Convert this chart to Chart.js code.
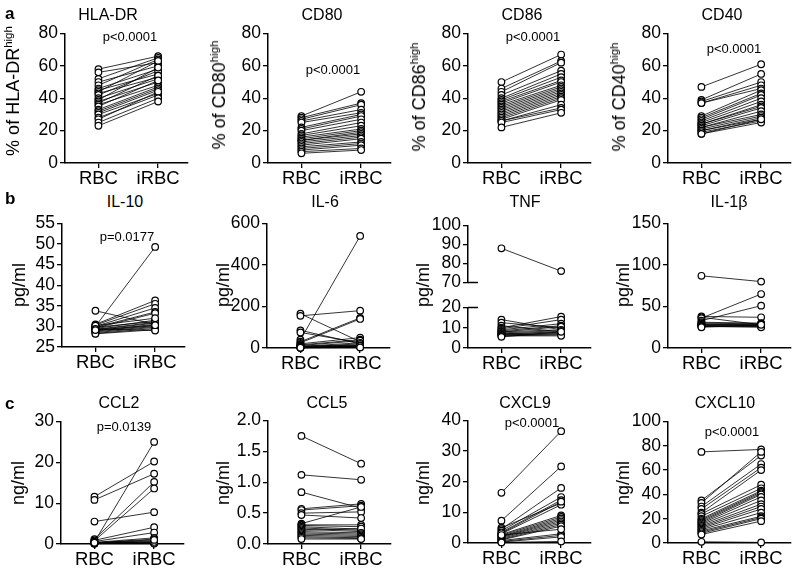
<!DOCTYPE html>
<html>
<head>
<meta charset="utf-8">
<script src="https://cdn.jsdelivr.net/npm/chart.js@4.4.0/dist/chart.umd.min.js"></script>
<style>
  body { margin: 0; background: #fff; width: 797px; height: 573px; position: relative; overflow: hidden;
         font-family: 'Liberation Sans', Arial, sans-serif; color: #000; }
  canvas { position: absolute; }
  .lbl { position: absolute; white-space: nowrap; line-height: 1; transform: translate(-50%, -50%); }
  .ttl { font-size: 16px; }
  .pv { font-size: 13px; }
  .ax { font-size: 18px; transform: translate(-50%, -50%) rotate(-90deg); }
  .ax sup { font-size: 11.5px; vertical-align: 7px; line-height: 0; }
  .let { position: absolute; font-weight: bold; font-size: 17px; line-height: 1; transform: translateY(-50%); }
</style>
</head>
<body>
<script>
"use strict";

const groups = ["RBC", "iRBC"];

// row a: % of high-expressing cells
const hlaRBC  = [58, 56, 52, 50, 48, 46, 45, 44, 43, 42, 40, 39, 38, 37, 36, 35, 33, 32, 31, 30, 28, 27, 25, 23];
const hlaIRBC = [66, 62, 65, 60, 64, 58, 55, 63, 53, 57, 52, 59, 50, 54, 48, 51, 47, 46, 45, 43, 42, 44, 40, 38];
const cd80RBC  = [29, 28, 27, 26, 25, 22, 21, 20, 18, 17, 16, 15, 14, 14, 13, 12, 11, 10, 9, 8, 7, 6];
const cd80IRBC = [44, 37, 36, 33, 31, 30, 29, 27, 25, 23, 21, 20, 19, 18, 17, 16, 15, 13, 12, 11, 9, 8];
const cd86RBC  = [50, 46, 44, 42, 40, 39, 38, 37, 36, 35, 34, 33, 32, 31, 30, 29, 28, 27, 26, 26, 25, 22];
const cd86IRBC = [67, 63, 62, 57, 55, 53, 51, 50, 48, 47, 46, 45, 44, 43, 42, 41, 40, 39, 36, 34, 33, 31];
const cd40RBC  = [47, 39, 38, 37, 37, 29, 28, 27, 26, 25, 24, 24, 23, 22, 22, 21, 20, 20, 19, 18, 18];
const cd40IRBC = [61, 55, 50, 48, 46, 45, 43, 42, 40, 38, 36, 35, 34, 32, 30, 29, 28, 27, 26, 25, 27];

// row b: cytokines, pg/ml
const il10RBC  = [30, 33.8, 30.5, 30.3, 30, 29.8, 29.6, 29.5, 29.3, 29.2, 29, 28.9, 28.7, 28.5, 28.3, 28.2, 29.8, 30.2, 29.4, 29.1];
const il10IRBC = [49.3, 30.5, 36.3, 35.5, 34.5, 33.5, 33.2, 31.5, 31, 30.8, 30.5, 30.2, 30, 29.8, 29.5, 29.2, 31.2, 32, 29, 30.3];
const il6RBC  = [165, 155, 85, 75, 40, 30, 25, 20, 15, 12, 10, 8, 6, 5, 4, 3, 2, 2, 1, 1];
const il6IRBC = [30, 180, 20, 25, 540, 145, 140, 50, 40, 35, 10, 25, 15, 20, 8, 12, 5, 6, 10, 3];
const tnfRBC  = [88, 14, 12.5, 11, 10, 9.5, 9, 8.5, 8, 8, 7.5, 7, 7, 6.5, 6.5, 6, 6, 5.5];
const tnfIRBC = [76, 9, 10, 8, 15.5, 14, 12, 11, 10.5, 9, 8.5, 8, 7.5, 7, 7, 6.5, 6, 8];
const il1bRBC  = [87, 38, 37, 36, 33, 31, 30, 29, 28, 28, 27, 27, 26, 26, 25];
const il1bIRBC = [80, 37, 28, 65, 51, 30, 29, 28, 29, 27, 27, 26, 26, 25, 28];

// row c: chemokines, ng/ml
const ccl2RBC  = [11.6, 10.8, 5.5, 0.5, 1.2, 0.8, 0.9, 0.6, 0.4, 0.3, 0.3, 0.2, 0.2, 0.1, 0.1, 0.1, 0.2, 0.3];
const ccl2IRBC = [20.2, 17.2, 7.8, 25, 15.2, 13.6, 4.1, 2.8, 1.5, 1.2, 0.8, 0.6, 0.4, 0.3, 0.2, 0.1, 0.5, 1];
const ccl5RBC  = [1.75, 1.12, 0.84, 0.57, 0.55, 0.5, 0.47, 0.33, 0.31, 0.3, 0.28, 0.26, 0.24, 0.22, 0.2, 0.18, 0.16, 0.14, 0.12, 0.1, 0.08];
const ccl5IRBC = [1.3, 1.04, 0.58, 0.65, 0.62, 0.52, 0.42, 0.6, 0.31, 0.28, 0.24, 0.22, 0.2, 0.25, 0.18, 0.16, 0.14, 0.12, 0.1, 0.09, 0.08];
const cxcl9RBC  = [16.4, 7.3, 5, 4.5, 4, 3.5, 3, 2.8, 2.5, 2.2, 2, 1.8, 1.5, 1.2, 1, 0.8, 0.5, 0.3, 0.2, 3.2, 2.6];
const cxcl9IRBC = [36.5, 25, 13, 18, 15, 14, 12.5, 9, 8.5, 8, 7.5, 7, 6.5, 6, 5.5, 3, 2.5, 2, 0.5, 13.5, 4.5];
const cxcl10RBC  = [75, 35, 33, 30, 28, 25, 24, 22, 20, 19, 18, 17, 16, 15, 14, 13, 12, 11, 10, 9, 8, 7, 1];
const cxcl10IRBC = [77, 72, 75, 65, 62, 60, 48, 45, 43, 42, 41, 40, 38, 35, 32, 30, 28, 25, 22, 21, 20, 18, 0.5];

const FONT = "'Liberation Sans', Arial, sans-serif";
const YW = 45;      // room for y tick labels
const XLEN = 123;   // x axis length

const panels = [
  { title: "HLA-DR", axis: "% of HLA-DR<sup>high</sup>", rbc: hlaRBC, irbc: hlaIRBC, min: 0, max: 80, step: 20,
    L: 65, T: 33, B: 163, tx: 108, ty: 15, p: "p<0.0001", px: 130, py: 36, ax: 13, ay: 91 },
  { title: "CD80", axis: "% of CD80<sup>high</sup>", rbc: cd80RBC, irbc: cd80IRBC, min: 0, max: 80, step: 20,
    L: 268, T: 33, B: 163, tx: 322, ty: 15, p: "p<0.0001", px: 333, py: 69, ax: 219, ay: 95 },
  { title: "CD86", axis: "% of CD86<sup>high</sup>", rbc: cd86RBC, irbc: cd86IRBC, min: 0, max: 80, step: 20,
    L: 468, T: 33, B: 163, tx: 522, ty: 15, p: "p<0.0001", px: 533, py: 36, ax: 419, ay: 97 },
  { title: "CD40", axis: "% of CD40<sup>high</sup>", rbc: cd40RBC, irbc: cd40IRBC, min: 0, max: 80, step: 20,
    L: 668, T: 33, B: 163, tx: 722, ty: 15, p: "p<0.0001", px: 734, py: 48, ax: 619, ay: 97 },

  { title: "IL-10", axis: "pg/ml", rbc: il10RBC, irbc: il10IRBC, min: 25, max: 55, step: 5,
    L: 62, T: 223, B: 347, tx: 125, ty: 202, p: "p=0.0177", px: 127, py: 236, ax: 19, ay: 285 },
  { title: "IL-6", axis: "pg/ml", rbc: il6RBC, irbc: il6IRBC, min: 0, max: 600, step: 200,
    L: 267, T: 223, B: 348, tx: 325, ty: 202, ax: 223, ay: 285 },
  { title: "TNF", axis: "pg/ml", rbc: tnfRBC, irbc: tnfIRBC, min: 0, max: 20, step: 10,
    L: 468, T: 307, B: 348, tx: 525, ty: 202, ax: 423, ay: 285,
    upper: { min: 70, max: 100, step: 10, T: 225, B: 284 } },
  { title: "IL-1β", axis: "pg/ml", rbc: il1bRBC, irbc: il1bIRBC, min: 0, max: 150, step: 50,
    L: 668, T: 223, B: 348, tx: 729, ty: 202, ax: 623, ay: 285 },

  { title: "CCL2", axis: "ng/ml", rbc: ccl2RBC, irbc: ccl2IRBC, min: 0, max: 30, step: 10,
    L: 61, T: 421, B: 544, tx: 119, ty: 403, p: "p=0.0139", px: 124, py: 426, ax: 18, ay: 483 },
  { title: "CCL5", axis: "ng/ml", rbc: ccl5RBC, irbc: ccl5IRBC, min: 0, max: 2, step: 0.5, fixed: 1,
    L: 268, T: 420, B: 544, tx: 327, ty: 403, ax: 223, ay: 483 },
  { title: "CXCL9", axis: "ng/ml", rbc: cxcl9RBC, irbc: cxcl9IRBC, min: 0, max: 40, step: 10,
    L: 468, T: 420, B: 543, tx: 525, ty: 403, p: "p<0.0001", px: 532, py: 422, ax: 423, ay: 483 },
  { title: "CXCL10", axis: "ng/ml", rbc: cxcl10RBC, irbc: cxcl10IRBC, min: 0, max: 100, step: 20,
    L: 668, T: 421, B: 543, tx: 725, ty: 403, p: "p<0.0001", px: 732, py: 431, ax: 623, ay: 483 }
];

const letters = [["a", 5, 13], ["b", 5, 198], ["c", 5, 403]];

function addLabel(cls, html, x, y) {
  const d = document.createElement("div");
  d.className = cls;
  d.innerHTML = html;
  d.style.left = x + "px";
  d.style.top = y + "px";
  document.body.appendChild(d);
}

// short tick crossing the axis where the y axis is broken
const breakMark = {
  id: "breakMark",
  afterDraw(chart, args, opts) {
    if (!opts.where) return;
    const a = chart.chartArea;
    const y = opts.where === "bottom" ? a.bottom : a.top;
    const ctx = chart.ctx;
    ctx.save();
    ctx.strokeStyle = "#000";
    ctx.lineWidth = 1.5;
    ctx.beginPath();
    ctx.moveTo(a.left, y);
    ctx.lineTo(a.left + 10, y);
    ctx.stroke();
    ctx.restore();
  }
};

function axisStyle() {
  return {
    grid: { display: true, drawOnChartArea: false, drawTicks: true, tickLength: 5, color: "#000", lineWidth: 1.3 },
    border: { display: true, color: "#000", width: 1.5 }
  };
}

function drawPanel(p, range, showX, breakAt) {
  const T = range.T, B = range.B;
  const padTop = 12;
  const padBottom = showX ? 0 : 11;
  const xh = showX ? 30 : 0;
  const cv = document.createElement("canvas");
  const w = YW + XLEN + 14;
  const h = padTop + (B - T) + xh + padBottom;
  cv.width = w;
  cv.height = h;
  cv.style.left = (p.L - YW) + "px";
  cv.style.top = (T - padTop) + "px";
  document.body.appendChild(cv);

  const inRange = (v) => v >= range.min && v <= range.max;
  const pairs = p.rbc.map((v, i) => [v, p.irbc[i]]).filter((q) => inRange(q[0]) && inRange(q[1]));

  const points = pairs.map((q) => ({ x: 0, y: q[0] })).concat(pairs.map((q) => ({ x: 1, y: q[1] })));
  const datasets = [{
    data: points, showLine: false, pointRadius: 3.3, pointBorderWidth: 1.2,
    pointBackgroundColor: "#fff", pointBorderColor: "#000", clip: false
  }];
  pairs.forEach((q) => {
    datasets.push({
      data: [{ x: 0, y: q[0] }, { x: 1, y: q[1] }],
      borderColor: "#000", borderWidth: 0.8, pointRadius: 0, clip: false
    });
  });

  new Chart(cv, {
    type: "line",
    data: { datasets: datasets },
    options: {
      responsive: false,
      animation: false,
      devicePixelRatio: 1,
      layout: { padding: { top: padTop, right: 14, bottom: padBottom, left: 0 } },
      plugins: { legend: { display: false }, tooltip: { enabled: false }, breakMark: { where: breakAt } },
      scales: {
        x: Object.assign({
          type: "linear", display: showX, min: -0.56, max: 1.5,
          afterBuildTicks: (s) => { s.ticks = [{ value: 0 }, { value: 1 }]; },
          afterFit: (s) => { s.height = xh; },
          ticks: {
            callback: (v) => groups[v], autoSkip: false, maxRotation: 0, padding: 0, color: "#000",
            font: { family: FONT, size: 18.5 }
          }
        }, axisStyle()),
        y: Object.assign({
          min: range.min, max: range.max,
          afterFit: (s) => { s.width = YW; },
          ticks: {
            stepSize: range.step, autoSkip: false, padding: 2, color: "#000",
            font: { family: FONT, size: 17.5 },
            callback: (v) => (p.fixed ? v.toFixed(p.fixed) : v)
          }
        }, axisStyle())
      }
    },
    plugins: [breakMark]
  });
}

panels.forEach((p) => {
  if (p.upper) {
    drawPanel(p, { min: p.upper.min, max: p.upper.max, step: p.upper.step, T: p.upper.T, B: p.upper.B }, false, "bottom");
    drawPanel(p, { min: p.min, max: p.max, step: p.step, T: p.T, B: p.B }, true, "top");
  } else {
    drawPanel(p, { min: p.min, max: p.max, step: p.step, T: p.T, B: p.B }, true, null);
  }
  addLabel("lbl ttl", p.title, p.tx, p.ty);
  if (p.p) addLabel("lbl pv", p.p.replace("<", "&lt;"), p.px, p.py);
  addLabel("lbl ax", p.axis, p.ax, p.ay);
});

letters.forEach((l) => addLabel("let", l[0], l[1], l[2]));
</script>
</body>
</html>
